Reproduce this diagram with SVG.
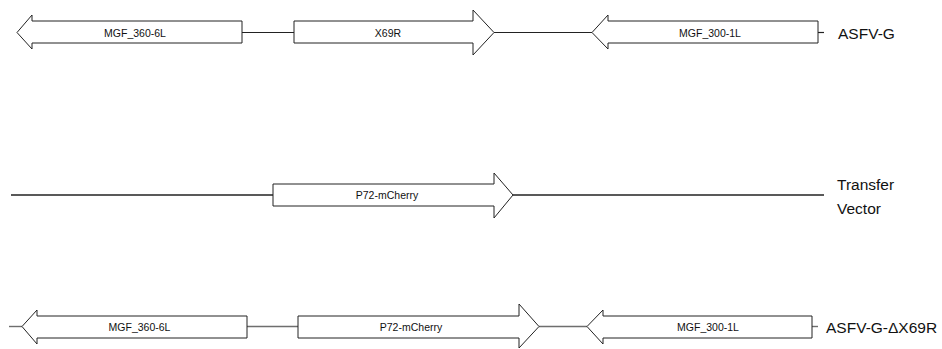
<svg xmlns="http://www.w3.org/2000/svg" width="942" height="349" viewBox="0 0 942 349">
<style>
.gene{fill:#fff;stroke:#222;stroke-width:1}
.lbl{font-family:"Liberation Sans",Arial,sans-serif;font-size:10.5px;fill:#111;text-anchor:middle}
.name{font-family:"Liberation Sans",Arial,sans-serif;font-size:15.5px;fill:#111}
.ln{stroke:#222;stroke-width:1.2;fill:none}
.ln3{stroke:#6e6e6e;stroke-width:1.4;fill:none}
</style>
<rect width="942" height="349" fill="#fff"/>
<g id="connectors">
  <line class="ln" x1="242" y1="32.5" x2="294" y2="32.5"/>
  <line class="ln" x1="494" y1="32.5" x2="592" y2="32.5"/>
  <line class="ln" x1="818" y1="32.5" x2="824" y2="32.5"/>
  <line class="ln" x1="11" y1="195" x2="273" y2="195" style="stroke-width:1.5"/>
  <line class="ln" x1="513" y1="195" x2="824" y2="195" style="stroke-width:1.5"/>
  <line class="ln3" x1="9" y1="326.5" x2="22" y2="326.5"/>
  <line class="ln3" x1="247" y1="326.5" x2="298" y2="326.5"/>
  <line class="ln3" x1="539" y1="326.5" x2="587" y2="326.5"/>
  <line class="ln3" x1="812" y1="326.5" x2="818" y2="326.5"/>
</g>
<g id="asfv-g-mgf360">
  <polygon class="gene" points="17,32.5 32,15 32,21 242,21 242,43 32,43 32,49"/>
  <text class="lbl" x="135" y="36.5">MGF_360-6L</text>
</g>
<g id="asfv-g-x69r">
  <polygon class="gene" points="294,21 473,21 473,10 494,32.5 473,55 473,43 294,43"/>
  <text class="lbl" x="388" y="36.5">X69R</text>
</g>
<g id="asfv-g-mgf300">
  <polygon class="gene" points="592,32.5 608,15 608,21 818,21 818,43 608,43 608,49"/>
  <text class="lbl" x="710" y="36.5">MGF_300-1L</text>
</g>
<g id="label-asfv-g">
  <text class="name" x="838" y="39">ASFV-G</text>
</g>
<g id="tv-p72">
  <polygon class="gene" points="273,184 494,184 494,173 513,195 494,218 494,206 273,206"/>
  <text class="lbl" x="387" y="199">P72-mCherry</text>
</g>
<g id="label-transfer">
  <text class="name" x="837" y="190">Transfer</text>
  <text class="name" x="837" y="214">Vector</text>
</g>
<g id="dx-mgf360">
  <polygon class="gene" points="22,326.5 37,310 37,316 247,316 247,338 37,338 37,344"/>
  <text class="lbl" x="139.5" y="330.5">MGF_360-6L</text>
</g>
<g id="dx-p72">
  <polygon class="gene" points="298,316 519,316 519,304 539,326.5 519,348 519,338 298,338"/>
  <text class="lbl" x="411" y="330.5">P72-mCherry</text>
</g>
<g id="dx-mgf300">
  <polygon class="gene" points="587,326.5 603,310 603,316 812,316 812,338 603,338 603,344"/>
  <text class="lbl" x="708" y="330.5">MGF_300-1L</text>
</g>
<g id="label-dx">
  <text class="name" x="826" y="333">ASFV-G-ΔX69R</text>
</g>
</svg>
